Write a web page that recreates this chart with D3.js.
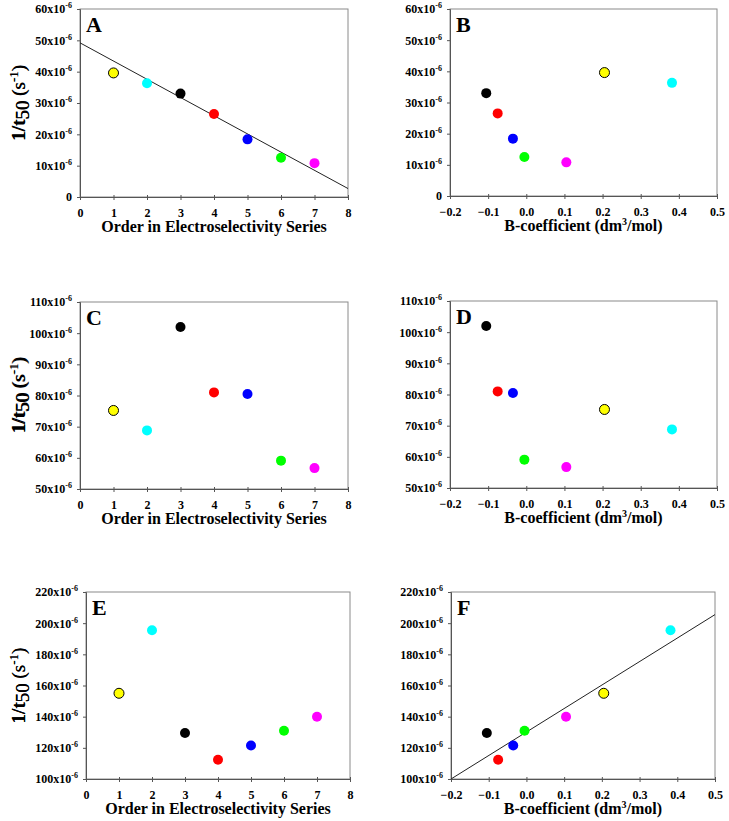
<!DOCTYPE html>
<html>
<head>
<meta charset="utf-8">
<script src="https://cdn.jsdelivr.net/npm/d3@7"></script>
<style>
  body { margin: 0; background: #fff; }
  svg { display: block; }
  text { font-family: "Liberation Serif", "Times New Roman", serif; }
</style>
</head>
<body>
<div id="chart"></div>
<script>
/* global d3 */

// ions, in electroselectivity order
const ions = ['yellow', 'cyan', 'black', 'red', 'blue', 'green', 'magenta']
const colors = ['#ffff00', '#00ffff', '#000000', '#ff0000', '#0000ff', '#00ff00', '#ff00ff']
const order = [1, 2, 3, 4, 5, 6, 7]
const bCoef = [0.205, 0.382, -0.105, -0.075, -0.035, -0.005, 0.105]

// 1/t50 values, in units of 10^-6 s^-1
const rateTop = [39.6, 36.3, 33.0, 26.5, 18.4, 12.5, 10.8]
const rateMid = [75.2, 68.8, 102.0, 81.0, 80.5, 59.1, 56.7]
const rateBot = [155.0, 195.5, 129.5, 112.3, 121.5, 131.0, 140.0]

// fitted lines
const fitA = [[0, 49.2], [8, 2.7]]
const fitF = [[-0.2, 100.0], [0.5, 205.5]]

const orderTicks = [0, 1, 2, 3, 4, 5, 6, 7, 8]
const bTicks = [-0.2, -0.1, 0.0, 0.1, 0.2, 0.3, 0.4, 0.5]
const yTicksTop = [0, 10, 20, 30, 40, 50, 60]
const yTicksMid = [50, 60, 70, 80, 90, 100, 110]
const yTicksBot = [100, 120, 140, 160, 180, 200, 220]

const width = 729, height = 821

const svg = d3.select('#chart').append('svg')
  .attr('width', width)
  .attr('height', height)

const panels = [
  { tag: 'A', box: [80, 348, 9, 197], x: order, xDom: [0, 8], xTicks: orderTicks, y: rateTop, yDom: [0, 60], yTicks: yTicksTop, fit: fitA, kind: 'order' },
  { tag: 'B', box: [450, 717, 9, 196], x: bCoef, xDom: [-0.2, 0.5], xTicks: bTicks, y: rateTop, yDom: [0, 60], yTicks: yTicksTop, kind: 'b' },
  { tag: 'C', box: [80, 348, 302, 489], x: order, xDom: [0, 8], xTicks: orderTicks, y: rateMid, yDom: [50, 110], yTicks: yTicksMid, kind: 'order' },
  { tag: 'D', box: [450, 717, 301, 488], x: bCoef, xDom: [-0.2, 0.5], xTicks: bTicks, y: rateMid, yDom: [50, 110], yTicks: yTicksMid, kind: 'b' },
  { tag: 'E', box: [86, 350, 592, 779], x: order, xDom: [0, 8], xTicks: orderTicks, y: rateBot, yDom: [100, 220], yTicks: yTicksBot, kind: 'order' },
  { tag: 'F', box: [451, 715, 592, 779], x: bCoef, xDom: [-0.2, 0.5], xTicks: bTicks, y: rateBot, yDom: [100, 220], yTicks: yTicksBot, fit: fitF, kind: 'b' }
]

panels.forEach(p => {
  const [x0, x1, y0, y1] = p.box
  const xScale = d3.scaleLinear().domain(p.xDom).range([x0, x1])
  const yScale = d3.scaleLinear().domain(p.yDom).range([y1, y0])
  const g = svg.append('g')

  // frame
  g.append('rect')
    .attr('x', x0).attr('y', y0)
    .attr('width', x1 - x0).attr('height', y1 - y0)
    .attr('fill', 'none')
    .attr('stroke', '#8a8a8a')
    .attr('stroke-width', 1)

  // x axis
  const xAxis = d3.axisBottom(xScale)
    .tickValues(p.xTicks)
    .tickSize(3)
    .tickPadding(8)
    .tickFormat(p.kind === 'order' ? d3.format('d') : d3.format('.1f'))
  const gx = g.append('g')
    .attr('transform', `translate(0,${y1})`)
    .call(xAxis)
  gx.select('.domain').attr('stroke', '#555')
  gx.selectAll('.tick line').attr('stroke', '#555').attr('y1', -2)
  gx.selectAll('.tick text')
    .attr('font-family', '"Liberation Serif", serif')
    .attr('font-weight', 'bold')
    .attr('font-size', 12)
    .attr('fill', '#000')

  // y axis
  const yAxis = d3.axisLeft(yScale)
    .tickValues(p.yTicks)
    .tickSize(3)
    .tickPadding(5)
    .tickFormat('')
  const gy = g.append('g')
    .attr('transform', `translate(${x0},0)`)
    .call(yAxis)
  gy.select('.domain').attr('stroke', '#555')
  gy.selectAll('.tick line').attr('stroke', '#555')
  gy.selectAll('.tick text').each(function (d) {
    const t = d3.select(this)
      .attr('font-family', '"Liberation Serif", serif')
      .attr('font-weight', 'bold')
      .attr('font-size', 12)
      .attr('fill', '#000')
    if (d === 0) {
      t.text('0')
    } else {
      t.append('tspan').text(d + 'x10')
      t.append('tspan').attr('font-size', 8).attr('dy', -5).text('-6')
    }
  })

  // fit line
  if (p.fit) {
    g.append('path')
      .datum(p.fit)
      .attr('d', d3.line().x(d => xScale(d[0])).y(d => yScale(d[1])))
      .attr('fill', 'none')
      .attr('stroke', '#222')
      .attr('stroke-width', 1)
  }

  // points
  g.selectAll('circle.pt')
    .data(ions.map((ion, i) => ({ ion, x: p.x[i], y: p.y[i], c: colors[i] })))
    .enter()
    .append('circle')
    .attr('class', 'pt')
    .attr('cx', d => xScale(d.x))
    .attr('cy', d => yScale(d.y))
    .attr('r', 5)
    .attr('fill', d => d.c)
    .attr('stroke', d => d.ion === 'yellow' ? '#000' : 'none')
    .attr('stroke-width', 1)

  // panel letter
  g.append('text')
    .attr('x', x0 + 6)
    .attr('y', y0 + 23)
    .attr('font-size', 22)
    .attr('font-weight', 'bold')
    .text(p.tag)

  // y title: 1/t50 (s-1)
  const yt = g.append('text')
    .attr('transform', `translate(25,${(y0 + y1) / 2}) rotate(-90)`)
    .attr('text-anchor', 'middle')
    .attr('font-size', 19)
  yt.append('tspan').attr('font-weight', 'bold').text('1/t')
  yt.append('tspan').attr('dy', 4).text('50')
  yt.append('tspan').attr('dy', -4).text(' (s')
  yt.append('tspan').attr('dy', -7).attr('font-size', 13).text('-1')
  yt.append('tspan').attr('dy', 7).text(')')

  // x title
  const xt = g.append('text')
    .attr('x', (x0 + x1) / 2)
    .attr('y', y1 + 35)
    .attr('text-anchor', 'middle')
    .attr('font-size', 16)
    .attr('font-weight', 'bold')
  if (p.kind === 'order') {
    xt.text('Order in Electroselectivity Series')
  } else {
    xt.append('tspan').text('B-coefficient (dm')
    xt.append('tspan').attr('dy', -6).attr('font-size', 10).text('3')
    xt.append('tspan').attr('dy', 6).text('/mol)')
  }
})
</script>
</body>
</html>
